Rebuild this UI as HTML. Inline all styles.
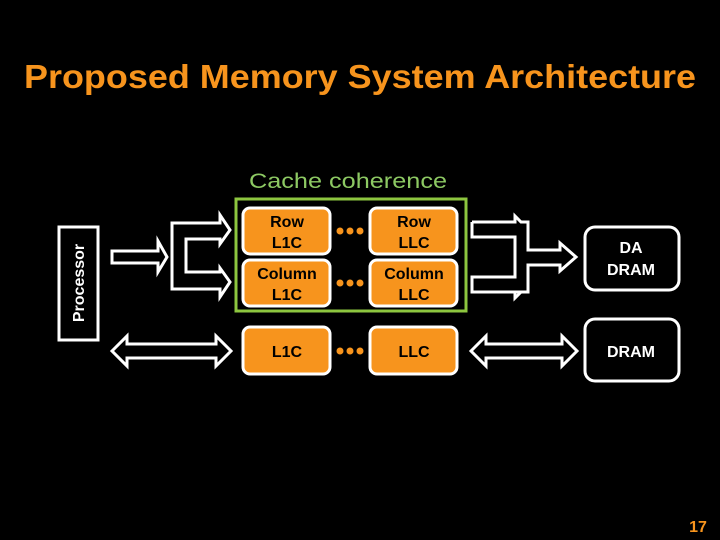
<!DOCTYPE html>
<html><head><meta charset="utf-8"><style>
html,body{margin:0;padding:0;background:#000;width:720px;height:540px;overflow:hidden}
svg{display:block}
text{font-family:"Liberation Sans",Arial,sans-serif}
</style></head><body>
<svg width="720" height="540" viewBox="0 0 720 540" xmlns="http://www.w3.org/2000/svg">
<rect width="720" height="540" fill="#000"/>
<text x="360" y="88" text-anchor="middle" font-size="33" font-weight="bold" fill="#F7941D" textLength="672" lengthAdjust="spacingAndGlyphs">Proposed Memory System Architecture</text>
<text x="348" y="188" text-anchor="middle" font-size="21" fill="#8DC963" textLength="198" lengthAdjust="spacingAndGlyphs">Cache coherence</text>

<!-- Processor -->
<rect x="59" y="227" width="39" height="113" fill="#000" stroke="#fff" stroke-width="3"/>
<text transform="translate(84,283) rotate(-90)" text-anchor="middle" font-size="16" font-weight="bold" fill="#fff">Processor</text>

<!-- green box -->
<rect x="236" y="199" width="230" height="112" fill="none" stroke="#8DC63F" stroke-width="3"/>

<g fill="#F7941D" stroke="#fff" stroke-width="3">
<rect x="243" y="208" width="87" height="46" rx="7"/>
<rect x="243" y="260" width="87" height="46" rx="7"/>
<rect x="370" y="208" width="87" height="46" rx="7"/>
<rect x="370" y="260" width="87" height="46" rx="7"/>
<rect x="243" y="327" width="87" height="47" rx="7"/>
<rect x="370" y="327" width="87" height="47" rx="7"/>
</g>
<g font-size="16" font-weight="bold" fill="#000" text-anchor="middle">
<text x="287" y="227">Row</text><text x="287" y="248">L1C</text>
<text x="414" y="227">Row</text><text x="414" y="248">LLC</text>
<text x="287" y="279">Column</text><text x="287" y="300">L1C</text>
<text x="414" y="279">Column</text><text x="414" y="300">LLC</text>
<text x="287" y="357">L1C</text><text x="414" y="357">LLC</text>
</g>
<g fill="#F7941D">
<circle cx="340" cy="231" r="3.5"/><circle cx="350" cy="231" r="3.5"/><circle cx="360" cy="231" r="3.5"/>
<circle cx="340" cy="283" r="3.5"/><circle cx="350" cy="283" r="3.5"/><circle cx="360" cy="283" r="3.5"/>
<circle cx="340" cy="351" r="3.5"/><circle cx="350" cy="351" r="3.5"/><circle cx="360" cy="351" r="3.5"/>
</g>

<!-- DRAM boxes -->
<g fill="#000" stroke="#fff" stroke-width="3">
<rect x="585" y="227" width="94" height="63" rx="10"/>
<rect x="585" y="319" width="94" height="62" rx="10"/>
</g>
<g font-size="16" font-weight="bold" fill="#fff" text-anchor="middle">
<text x="631" y="253">DA</text><text x="631" y="275">DRAM</text>
<text x="631" y="357">DRAM</text>
</g>

<!-- arrows -->
<g fill="none" stroke="#fff" stroke-width="3" stroke-linejoin="miter">
<!-- left split -->
<polygon points="112,251 158,251 158,241 167,257 158,272 158,263 112,263"/>
<polyline points="172,276 172,223 220,223 220,215 230,230 220,244 220,239 186,239 186,272 220,272 220,268 230,282 220,297 220,289 172,289 172,276"/>
<!-- bottom left double arrow -->
<polygon points="112,351 127,336 127,344 216,344 216,336 231,351 216,366 216,358 127,358 127,366"/>
<!-- right merge -->
<polyline points="472,222 515,222 515,216 521,222 528,222 528,250 560,250 560,243 576,257 560,271 560,265 528,265 528,292 515,292 515,298 521,292 515,292 472,292 472,277 515,277 515,237 472,237 472,222"/>
<!-- bottom right double arrow -->
<polygon points="471,351 486,336 486,344 562,344 562,336 577,351 562,366 562,358 486,358 486,366"/>
</g>

<text x="698" y="532" text-anchor="middle" font-size="16" font-weight="bold" fill="#F7941D">17</text>
</svg>
</body></html>
